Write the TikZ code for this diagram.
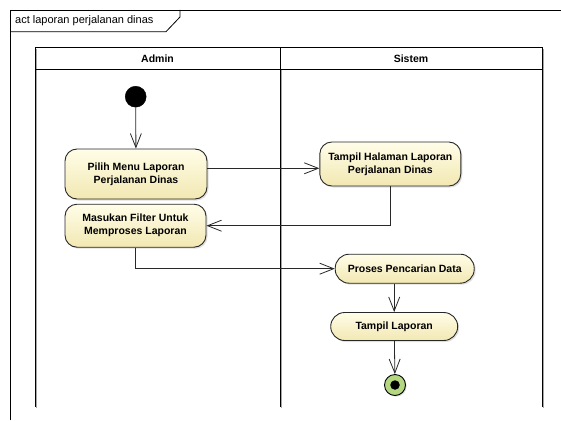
\documentclass[tikz,border=0pt]{standalone}
\usepackage{fontspec}
\setmainfont{Liberation Sans}
\usetikzlibrary{arrows.meta,shadows}
\definecolor{actTop}{RGB}{255,253,232}
\definecolor{actBot}{RGB}{242,232,178}
\definecolor{finGreen}{RGB}{180,216,130}
\definecolor{lineC}{RGB}{40,40,40}
\tikzset{
  actbox/.style={draw=lineC, line width=0.9pt, rounded corners=12pt, top color=actTop, bottom color=actBot,
    align=center, inner sep=0pt, font=\fontsize{10.5}{13}\selectfont\bfseries,
    drop shadow={shadow xshift=1.5pt, shadow yshift=-1.5pt, opacity=0.25}},
  flow/.style={draw=lineC, line width=0.8pt, -{Straight Barb[length=14pt,width=11pt,line width=0.8pt]}},
  lane/.style={draw=black, line width=1pt},
  lanetitle/.style={font=\fontsize{10.5}{12}\selectfont\bfseries}
}
\begin{document}
\begin{tikzpicture}[x=1pt,y=-1pt]
\useasboundingbox (0,0) rectangle (561,420);
% frame
\draw[line width=0.8pt] (10,420) -- (10,10) -- (561,10);
\draw[line width=0.8pt] (10,31.7) -- (166,31.7) -- (180,17) -- (180,10);
\node[anchor=west, font=\fontsize{11}{13}\selectfont, inner sep=0pt] (title) at (15,21) {act laporan perjalanan dinas};
% swimlanes (shadow + line)
\draw[gray!70, line width=1.2pt] (36.2,49) -- (36.2,407.5);
\draw[gray!70, line width=1.2pt] (281.2,70) -- (281.2,407.5);
\draw[gray!70, line width=1.2pt] (543.2,49) -- (543.2,407.5);
\draw[lane] (35,406.7) -- (35,47.7) -- (542,47.7) -- (542,406.7);
\draw[lane] (280,47.7) -- (280,406.7);
\draw[lane] (35,69.3) -- (542,69.3);
\node[lanetitle] (admin) at (157.5,58.5) {Admin};
\node[lanetitle] (sistem) at (411,58.5) {Sistem};
% nodes
\node[circle, fill=black, draw=black, minimum size=21pt, inner sep=0pt] (init) at (135.7,96.7) {};
\node[actbox, minimum width=142pt, minimum height=50pt] (pilih) at (136,174) {Pilih Menu Laporan\\Perjalanan Dinas};
\node[actbox, minimum width=141pt, minimum height=43pt] (masukan) at (135.5,225.7) {Masukan Filter Untuk\\Memproses Laporan};
\node[actbox, minimum width=141pt, minimum height=44pt] (th) at (390.3,164) {Tampil Halaman Laporan\\Perjalanan Dinas};
\node[actbox, rounded corners=14pt, minimum width=139pt, minimum height=29pt] (proses) at (404.7,268.7) {Proses Pencarian Data};
\node[actbox, rounded corners=14pt, minimum width=127pt, minimum height=28pt] (tl) at (394.2,326.5) {Tampil Laporan};
\node[circle, fill=finGreen, draw=black, line width=0.9pt, minimum size=21pt, inner sep=0pt,
  drop shadow={shadow xshift=1.2pt, shadow yshift=-1.2pt, opacity=0.25}] (fin) at (395,385) {};
\node[circle, fill=black, minimum size=9.5pt, inner sep=0pt] (finDot) at (fin.center) {};
% flows
\draw[flow] (init) -- (pilih);
\draw[flow] ([yshift=5.7pt]pilih.east) coordinate (a1) -- (a1 -| th.west);
\draw[flow] (th.south) |- (masukan.east);
\draw[flow] (masukan.south) |- (proses.west);
\draw[flow] (tl.north |- proses.south) -- (tl.north);
\draw[flow] (tl) -- (fin);
\end{tikzpicture}
\end{document}
